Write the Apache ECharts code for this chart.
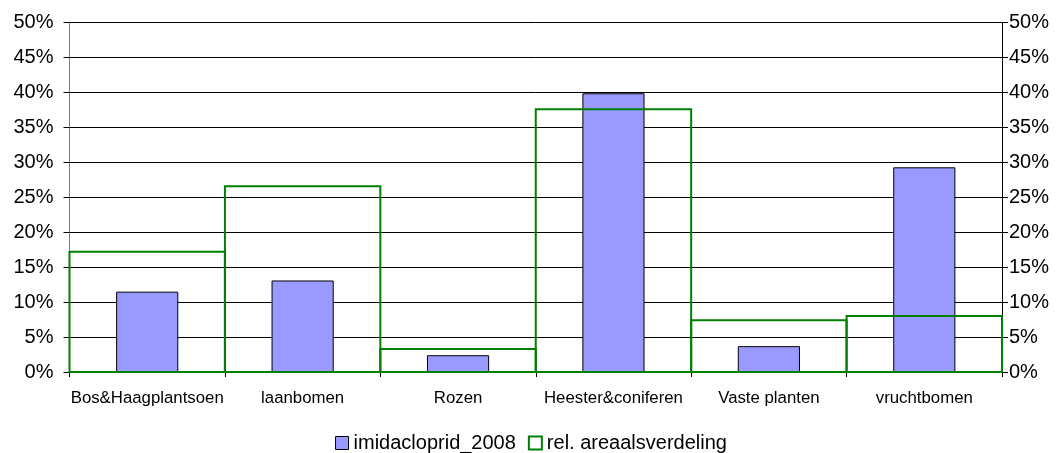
<!DOCTYPE html>
<html>
<head>
<meta charset="utf-8">
<script src="https://cdn.jsdelivr.net/npm/echarts@6/dist/echarts.min.js"></script>
<style>
  html, body { margin: 0; padding: 0; background: #fff; }
  #chart { width: 1062px; height: 453px; }
</style>
</head>
<body>
<div id="chart"></div>
<script>
// Crop groups
const categories = ['Bos&Haagplantsoen', 'laanbomen', 'Rozen', 'Heester&coniferen', 'Vaste planten', 'vruchtbomen'];
// Share of imidacloprid use in 2008 (%)
const imidacloprid2008 = [11.5, 13.1, 2.4, 39.9, 3.7, 29.3];
// Relative area distribution (%)
const areaalsverdeling = [17.2, 26.6, 3.3, 37.6, 7.4, 8.0];
// Percentage ticks on both value axes
const axisMin = 0, axisMax = 50, axisStep = 5;

const FONT = 'Arial, "Liberation Sans", sans-serif';
const GREEN = '#008000';

const chart = echarts.init(document.getElementById('chart'), null, { renderer: 'canvas' });

const valueAxis = (pos, margin, lineColor) => ({
  type: 'value',
  position: pos,
  min: axisMin,
  max: axisMax,
  interval: axisStep,
  axisLine: { show: true, lineStyle: { color: lineColor, width: 1 } },
  axisTick: { show: true, length: 6, lineStyle: { color: '#000' } },
  axisLabel: { formatter: '{value}%', color: '#000', fontFamily: FONT, fontSize: 20, margin: margin },
  splitLine: { show: pos === 'left', lineStyle: { color: '#000', width: 1 } }
});

// Full-width outlined columns: each spans its whole category band,
// so neighbouring columns share one edge.
function renderAreaColumn(params, api) {
  const idx = api.value(0);
  const top = api.coord([idx, api.value(1)]);
  const base = api.coord([idx, 0]);
  const band = api.size([1, 0])[0];
  return {
    type: 'rect',
    shape: { x: top[0] - band / 2, y: top[1], width: band, height: base[1] - top[1] },
    style: { fill: 'none', stroke: GREEN, lineWidth: 2 }
  };
}

chart.setOption({
  animation: false,
  backgroundColor: '#fff',
  grid: { left: 69.5, right: 60, top: 22.7, bottom: 81, containLabel: false },
  legend: {
    top: 428,
    left: 'center',
    icon: 'rect',
    itemWidth: 13,
    itemHeight: 13,
    itemGap: 12,
    textStyle: { color: '#000', fontFamily: FONT, fontSize: 20, padding: [0, 0, 0, 0] },
    data: [
      { name: 'imidacloprid_2008', itemStyle: { color: '#9999FF', borderColor: '#000', borderWidth: 1 } },
      { name: 'rel. areaalsverdeling', itemStyle: { color: '#fff', borderColor: GREEN, borderWidth: 2 } }
    ]
  },
  xAxis: {
    type: 'category',
    data: categories,
    axisLine: { show: true, lineStyle: { color: '#000', width: 1 } },
    axisTick: { show: true, length: 5, alignWithLabel: false, lineStyle: { color: '#000' } },
    axisLabel: { color: '#000', fontFamily: FONT, fontSize: 16.8, margin: 18, interval: 0 }
  },
  yAxis: [
    valueAxis('left', 16, '#808080'),
    valueAxis('right', 7, '#000')
  ],
  series: [
    {
      name: 'imidacloprid_2008',
      type: 'bar',
      yAxisIndex: 0,
      barWidth: '40%',
      data: imidacloprid2008,
      itemStyle: { color: '#9999FF', borderColor: '#000', borderWidth: 1 }
    },
    {
      name: 'rel. areaalsverdeling',
      type: 'custom',
      yAxisIndex: 1,
      renderItem: renderAreaColumn,
      encode: { x: 0, y: 1 },
      data: areaalsverdeling.map((v, i) => [i, v]),
      itemStyle: { color: GREEN },
      z: 3
    }
  ]
});
</script>
</body>
</html>
